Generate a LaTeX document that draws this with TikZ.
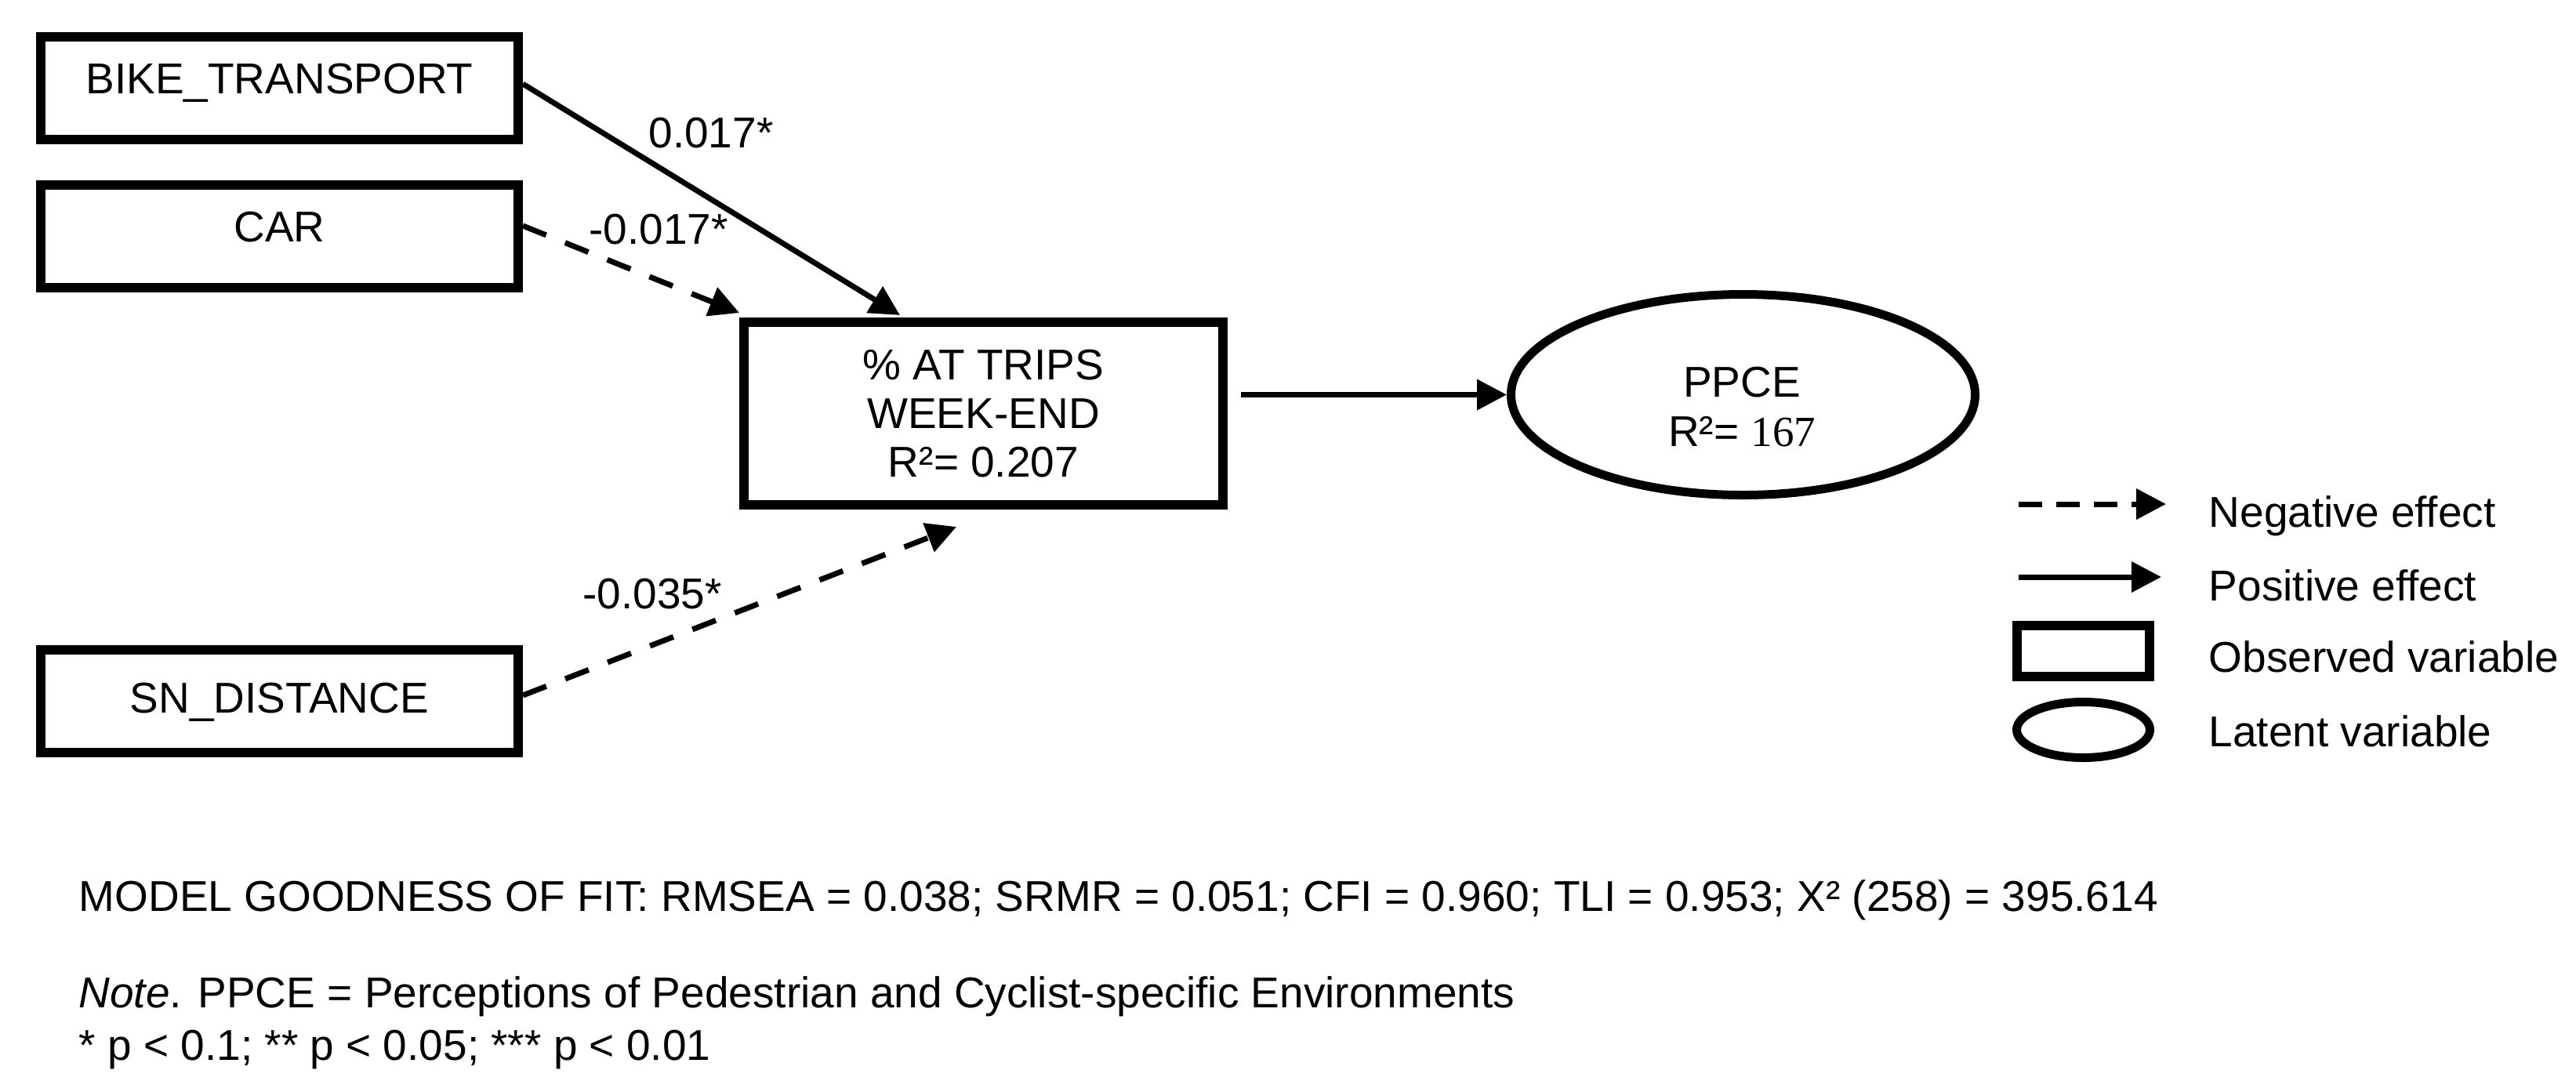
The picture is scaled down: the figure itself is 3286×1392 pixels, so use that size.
\documentclass[tikz,border=0pt]{standalone}
\usepackage{fontspec}
\setmainfont{Liberation Sans}
\newfontfamily\seriffam{Liberation Serif}
\usetikzlibrary{arrows.meta,shapes.geometric,calc}
\begin{document}
\begin{tikzpicture}[x=0.1mm,y=-0.1mm,
  txt/.style={font=\fontsize{15.65pt}{17.64pt}\selectfont, inner sep=0pt},
  obsbox/.style={txt, draw, rectangle, line width=1.2mm, minimum width=60.9mm, minimum height=13.1mm},
  latent/.style={draw, ellipse, line width=1.1mm, inner sep=0pt},
  effarrow/.style={line width=0.7mm, -{Triangle[length=3.8mm,width=3.8mm]}},
  negline/.style={dash pattern=on 3.2mm off 2.6mm},
  legdash/.style={dash pattern=on 3.0mm off 1.8mm},
]
\useasboundingbox (0,0) rectangle (3286,1392);

% observed variables
\node[obsbox, text height=3.94mm, text depth=2.5mm] (bike) at (356.5,112.5) {BIKE\_TRANSPORT};
\node[obsbox, text height=3.94mm, text depth=2.5mm] (car) at (356.5,301.5) {CAR};
\node[obsbox, text height=3.94mm, text depth=0.9mm] (sn) at (356.5,894.5) {SN\_DISTANCE};
\node[obsbox, minimum width=61.1mm, minimum height=23.3mm, align=center] (mid) at (1254.5,527.5) {\% AT TRIPS\\WEEK-END\\R²= 0.207};

% latent variable
\node[latent, minimum width=59.2mm, minimum height=25.6mm] (ppce) at (2223.5,503.5) {};
\node[txt, align=center, font=\fontsize{15.65pt}{17.9pt}\selectfont] (ppcetxt) at (2222,519) {PPCE\\R²= {\seriffam 167}};

% path labels
\node[txt] (l1) at (907,170) {0.017*};
\node[txt] (l2) at (840,293) {-0.017*};
\node[txt] (l3) at (832,758) {-0.035*};

% paths
\draw[effarrow] ([yshift=0.55mm]bike.east) -- ($(mid.north west)+(205,-3)$);
\draw[effarrow, negline] ([yshift=1.35mm]car.east) -- ($(mid.north west)+(0,-6)$);
\coordinate (snend) at ($(mid.south west)+(277,22)$);
\draw[effarrow, negline] ([yshift=0.75mm]sn.east) -- (snend);
\coordinate (midr) at ([xshift=1.7mm]mid.east);
\draw[effarrow] (midr |- ppce.west) -- (ppce.west);

% legend
\coordinate (lgn1) at (2575,643);
\coordinate (lgn2) at (2763,643);
\draw[effarrow, legdash] (lgn1) -- (lgn2);
\coordinate (lgp1) at (2575,736);
\coordinate (lgp2) at (2757,736);
\draw[effarrow] (lgp1) -- (lgp2);
\node[draw, rectangle, line width=1.2mm, minimum width=16.9mm, minimum height=6.5mm, inner sep=0pt] (legobs) at (2657.5,830.5) {};
\node[latent, minimum width=17mm, minimum height=7.1mm] (leglat) at (2657.5,931) {};
\node[txt, anchor=base west] (tneg) at (2817,672) {Negative effect};
\node[txt, anchor=base west] (tpos) at (2817,766) {Positive effect};
\node[txt, anchor=base west] (tobs) at (2817,857) {Observed variable};
\node[txt, anchor=base west] (tlat) at (2817,952) {Latent variable};

% notes
\node[txt, anchor=base west] (fit) at (100,1162) {MODEL GOODNESS OF FIT: RMSEA = 0.038; SRMR = 0.051; CFI = 0.960; TLI = 0.953; X² (258) = 395.614};
\node[txt, anchor=base west] (note) at (100,1285) {\textit{Note}. PPCE = Perceptions of Pedestrian and Cyclist-specific Environments};
\node[txt, anchor=base west] (sig) at (100,1352) {* p < 0.1; ** p < 0.05; *** p < 0.01};
\end{tikzpicture}
\end{document}
